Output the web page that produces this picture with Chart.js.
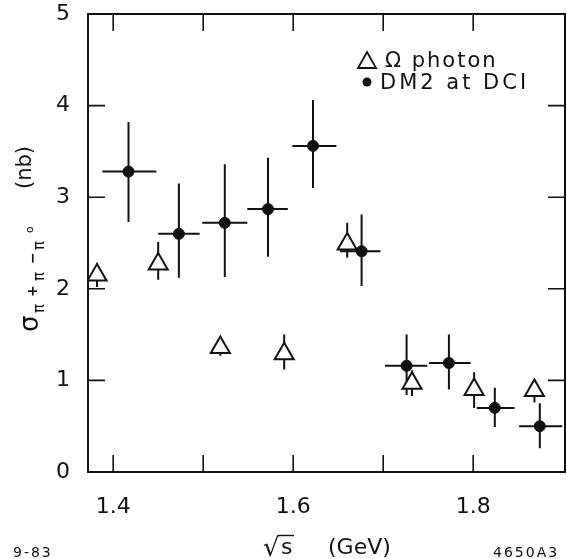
<!DOCTYPE html>
<html>
<head>
<meta charset="utf-8">
<title>sigma(e+e- -> pi+ pi- pi0)</title>
<script src="https://cdn.jsdelivr.net/npm/chart.js@4.4.0/dist/chart.umd.min.js"></script>
<style>
  html, body { margin: 0; padding: 0; background: #fff; }
  #wrap { width: 567px; height: 559px; }
</style>
</head>
<body>
<div id="wrap"><canvas id="xsec" width="567" height="559"></canvas></div>
<script>
/* ---- data: sqrt(s) in GeV, cross section in nb ---- */

// Omega photoproduction (open triangles)
const omegaX  = [1.382, 1.450, 1.519, 1.590, 1.660, 1.732, 1.801, 1.868];
const omegaY  = [2.15, 2.27, 1.36, 1.29, 2.49, 0.97, 0.90, 0.89];
const omegaLo = [2.02, 2.10, 1.27, 1.12, 2.34, 0.83, 0.70, 0.76];
const omegaHi = [2.28, 2.51, 1.45, 1.50, 2.72, 1.11, 1.09, 1.00];

// DM2 at DCI (filled dots, with energy bins)
const dm2X   = [1.417, 1.473, 1.524, 1.572, 1.622, 1.676, 1.726, 1.773, 1.824, 1.874];
const dm2Y   = [3.28, 2.60, 2.72, 2.87, 3.56, 2.41, 1.16, 1.19, 0.70, 0.50];
const dm2Lo  = [2.73, 2.12, 2.13, 2.35, 3.10, 2.03, 0.84, 0.90, 0.49, 0.26];
const dm2Hi  = [3.82, 3.15, 3.36, 3.43, 4.06, 2.81, 1.50, 1.50, 0.92, 0.75];
const dm2XLo = [1.388, 1.450, 1.499, 1.549, 1.599, 1.652, 1.702, 1.751, 1.804, 1.851];
const dm2XHi = [1.448, 1.496, 1.549, 1.594, 1.648, 1.697, 1.749, 1.797, 1.846, 1.899];

const xTicks = [1.4, 1.5, 1.6, 1.7, 1.8];
const xLabeled = [1.4, 1.6, 1.8];
const yTicks = [0, 1, 2, 3, 4, 5];

const INK = "#111";
const FONT = "'DejaVu Sans', sans-serif";

const omegaPts = omegaX.map((x, i) => ({ x, y: omegaY[i], yLo: omegaLo[i], yHi: omegaHi[i] }));
const dm2Pts = dm2X.map((x, i) => ({
  x, y: dm2Y[i], yLo: dm2Lo[i], yHi: dm2Hi[i], xLo: dm2XLo[i], xHi: dm2XHi[i],
}));

/* ---- error bars, drawn under the markers ---- */
const errorBars = {
  id: "errorBars",
  beforeDatasetsDraw(chart) {
    const { ctx, scales: { x, y } } = chart;
    ctx.save();
    ctx.strokeStyle = INK;
    ctx.lineWidth = 2;
    ctx.beginPath();
    chart.data.datasets.forEach((ds) => {
      ds.data.forEach((p) => {
        const px = x.getPixelForValue(p.x);
        const py = y.getPixelForValue(p.y);
        if (p.yLo != null) {
          ctx.moveTo(px, y.getPixelForValue(p.yLo));
          ctx.lineTo(px, y.getPixelForValue(p.yHi));
        }
        if (p.xLo != null) {
          ctx.moveTo(x.getPixelForValue(p.xLo), py);
          ctx.lineTo(x.getPixelForValue(p.xHi), py);
        }
      });
    });
    ctx.stroke();
    ctx.restore();
  },
};

/* ---- box with inward ticks on all four sides ---- */
const frame = {
  id: "frame",
  beforeDatasetsDraw(chart) {
    const { ctx, chartArea: a, scales: { x, y } } = chart;
    const tl = 17;
    ctx.save();
    ctx.strokeStyle = INK;
    ctx.lineWidth = 2;
    ctx.strokeRect(a.left, a.top, a.right - a.left, a.bottom - a.top);
    ctx.lineWidth = 1.6;
    ctx.beginPath();
    x.ticks.forEach((t) => {
      const px = x.getPixelForValue(t.value);
      ctx.moveTo(px, a.bottom); ctx.lineTo(px, a.bottom - tl);
      ctx.moveTo(px, a.top); ctx.lineTo(px, a.top + tl);
    });
    y.ticks.forEach((t) => {
      const py = y.getPixelForValue(t.value);
      ctx.moveTo(a.left, py); ctx.lineTo(a.left + tl, py);
      ctx.moveTo(a.right, py); ctx.lineTo(a.right - tl, py);
    });
    ctx.stroke();
    ctx.restore();
  },
};

/* ---- axis titles, legend and figure codes ---- */
const annotations = {
  id: "annotations",
  afterDraw(chart) {
    const { ctx } = chart;
    ctx.save();
    ctx.fillStyle = INK;
    ctx.strokeStyle = INK;
    ctx.textBaseline = "alphabetic";

    // y title: sigma_{pi+ pi- pi0}   (nb), reading upwards
    ctx.save();
    ctx.translate(38, 332);
    ctx.rotate(-Math.PI / 2);
    ctx.font = `26px ${FONT}`;
    ctx.fillText("\u03c3", 0, 0);
    ctx.font = `15px ${FONT}`;
    ctx.fillText("\u03c0", 19, 6);
    ctx.fillText("\u03c0", 51, 6);
    ctx.fillText("\u03c0", 82, 6);
    ctx.font = `bold 14px ${FONT}`;
    ctx.fillText("+", 35, -1);
    ctx.fillText("\u2212", 68, -1);
    ctx.font = `11px ${FONT}`;
    ctx.fillText("o", 99, -5);
    ctx.font = `21px ${FONT}`;
    ctx.fillText("(nb)", 143, -7);
    ctx.restore();

    // x title: sqrt(s)   (GeV)
    ctx.font = `26px ${FONT}`;
    ctx.fillText("\u221a", 263, 556);
    ctx.font = `22px ${FONT}`;
    ctx.fillText("s", 281, 554);
    ctx.lineWidth = 1.4;
    ctx.beginPath();
    ctx.moveTo(278, 535.5);
    ctx.lineTo(294, 535.5);
    ctx.stroke();
    ctx.fillText("(GeV)", 328, 554);

    // legend
    ctx.lineWidth = 1.8;
    ctx.fillStyle = "#fff";
    ctx.beginPath();
    ctx.moveTo(367, 52);
    ctx.lineTo(376, 68);
    ctx.lineTo(358, 68);
    ctx.closePath();
    ctx.fill();
    ctx.stroke();
    ctx.fillStyle = INK;
    ctx.beginPath();
    ctx.arc(367, 82, 4.5, 0, Math.PI * 2);
    ctx.fill();
    ctx.font = `21px ${FONT}`;
    ctx.letterSpacing = "2px";
    ctx.fillText("\u03a9 photon", 385, 67);
    ctx.letterSpacing = "3px";
    ctx.fillText("DM2 at DCI", 380, 89);

    // figure codes
    ctx.font = `14px ${FONT}`;
    ctx.letterSpacing = "2px";
    ctx.fillText("9-83", 13, 557);
    ctx.fillText("4650A3", 493, 557);
    ctx.restore();
  },
};

new Chart(document.getElementById("xsec"), {
  type: "scatter",
  data: {
    datasets: [
      {
        label: "DM2 at DCI",
        data: dm2Pts,
        order: 1,
        pointStyle: "circle",
        pointRadius: 5.5,
        pointBackgroundColor: INK,
        pointBorderColor: INK,
        pointBorderWidth: 1,
      },
      {
        label: "\u03a9 photon",
        data: omegaPts,
        order: 2,
        pointStyle: "triangle",
        pointRadius: 11,
        pointBackgroundColor: "#fff",
        pointBorderColor: INK,
        pointBorderWidth: 2,
      },
    ],
  },
  options: {
    responsive: false,
    animation: false,
    devicePixelRatio: 1,
    layout: {
      autoPadding: false,
      padding: { top: 14, right: 2, left: 0, bottom: 0 },
    },
    plugins: {
      legend: { display: false },
      tooltip: { enabled: false },
    },
    scales: {
      x: {
        type: "linear",
        min: 1.372,
        max: 1.902,
        grid: { display: false, drawTicks: false },
        border: { display: false },
        afterBuildTicks: (s) => { s.ticks = xTicks.map((v) => ({ value: v })); },
        afterFit: (s) => {
          s.height = 87;
          s.paddingLeft = 0;
          s.paddingRight = 0;
        },
        ticks: {
          color: INK,
          padding: 22,
          autoSkip: false,
          maxRotation: 0,
          font: { family: FONT, size: 22 },
          callback: (v) => (xLabeled.some((l) => Math.abs(l - v) < 1e-6) ? v.toFixed(1) : ""),
        },
      },
      y: {
        type: "linear",
        min: 0,
        max: 5,
        grid: { display: false, drawTicks: false },
        border: { display: false },
        afterBuildTicks: (s) => { s.ticks = yTicks.map((v) => ({ value: v })); },
        afterFit: (s) => {
          s.width = 88;
          s.paddingTop = 0;
          s.paddingBottom = 0;
        },
        ticks: {
          color: INK,
          padding: 18,
          font: { family: FONT, size: 22 },
          callback: (v) => String(v),
        },
      },
    },
  },
  plugins: [errorBars, frame, annotations],
});
</script>
</body>
</html>
